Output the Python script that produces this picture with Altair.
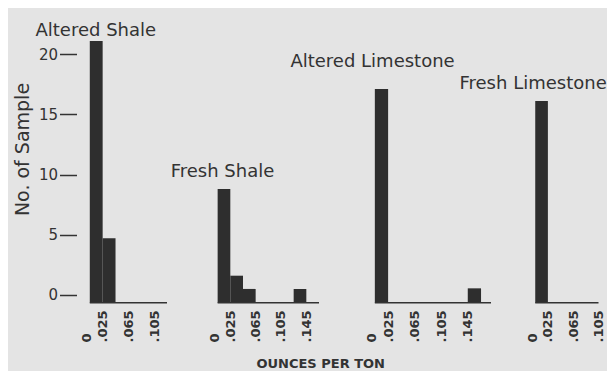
import altair as alt
import pandas as pd

# ---- data (counts of samples per gold-assay bin, oz/ton) ----
panel_names = ["Altered Shale", "Fresh Shale", "Altered Limestone", "Fresh Limestone"]

altered_shale_bins = [0.005, 0.025]
altered_shale_counts = [21.1, 4.7]

fresh_shale_bins = [0.005, 0.025, 0.045, 0.125]
fresh_shale_counts = [8.8, 1.6, 0.5, 0.5]

altered_lime_bins = [0.005, 0.145]
altered_lime_counts = [17.1, 0.55]

fresh_lime_bins = [0.005]
fresh_lime_counts = [16.1]

bin_width = 0.02

altered_shale_ticks = [0, 0.025, 0.065, 0.105]
fresh_shale_ticks = [0, 0.025, 0.065, 0.105, 0.145]
altered_lime_ticks = [0, 0.025, 0.065, 0.105, 0.145]
fresh_lime_ticks = [0, 0.025, 0.065, 0.105]

# extent of each panel's drawn base line (oz/ton)
axis_start = [0.005, 0.005, 0.005, 0.005]
axis_end = [0.125, 0.165, 0.18, 0.105]

y_ticks = [0, 5, 10, 15, 20]
y_title = "No. of Sample"
x_title = "OUNCES  PER  TON"

# ---- styling ----
FONT = "DejaVu Sans"
INK = "#333333"
BAR = "#2e2e2e"
BG = "#e4e4e4"
BASE_Y = -0.64
H = 289
Y_DOM = [-1, 23]


def panel(idx, bins, counts, ticks, lo, width, title_dx, title_dy, show_y, extra=None):
    df = pd.DataFrame({
        "start": bins,
        "end": [b + bin_width for b in bins],
        "count": counts,
    })
    xs = alt.Scale(domain=[lo, axis_end[idx]], nice=False, zero=False)
    ys = alt.Scale(domain=Y_DOM, nice=False, zero=False)
    xaxis = alt.Axis(
        values=ticks,
        labelExpr="datum.value == 0 ? '0' : substring(format(datum.value, '.3f'), 1)",
        labelAngle=270, labelAlign="left", labelBaseline="middle",
        labelPadding=35, ticks=False, tickSize=0, domain=False, grid=False,
        labelOverlap=False, labelFlush=False, labelBound=False,
        labelFont=FONT, labelFontSize=13, labelFontWeight="bold", labelColor=INK,
        title=None,
    )
    if show_y:
        yaxis = alt.Axis(
            values=y_ticks, domain=False, grid=False,
            tickSize=17, tickWidth=1.5, tickColor=INK,
            labelFont=FONT, labelFontSize=15, labelColor=INK, labelPadding=2,
            offset=7.5,
            title=y_title, titleFont=FONT, titleFontSize=19,
            titleFontWeight="normal", titleColor=INK, titlePadding=6,
            titleY=131,
        )
    else:
        yaxis = None
    bars = alt.Chart(df).mark_bar(color=BAR).encode(
        x=alt.X("start:Q", scale=xs, axis=xaxis),
        x2="end:Q",
        y=alt.Y("count:Q", scale=ys, axis=yaxis),
        y2=alt.datum(BASE_Y),
    )
    base = alt.Chart(pd.DataFrame({"a": [axis_start[idx]], "b": [axis_end[idx]]})).mark_rule(
        color=INK, strokeWidth=1.5
    ).encode(
        x=alt.X("a:Q", scale=xs, axis=xaxis),
        x2="b:Q",
        y=alt.datum(BASE_Y),
    )
    ttl = alt.Chart(pd.DataFrame({"name": [panel_names[idx]]})).mark_text(
        align="left", baseline="alphabetic", font=FONT, fontSize=18, color=INK
    ).encode(text="name:N", x=alt.value(title_dx), y=alt.value(title_dy))
    layers = [bars, base, ttl]
    if extra is not None:
        layers.append(extra)
    return alt.layer(*layers).properties(width=width, height=H)


xlab = alt.Chart(pd.DataFrame({"t": [x_title]})).mark_text(
    align="center", baseline="alphabetic", font=FONT, fontSize=13,
    fontWeight="bold", color=INK
).encode(text="t:N", x=alt.value(118.7), y=alt.value(350))

p1 = panel(0, altered_shale_bins, altered_shale_counts, altered_shale_ticks, -0.004, 83, -48.5, 17.5, True)
p2 = panel(1, fresh_shale_bins, fresh_shale_counts, fresh_shale_ticks, -0.0197, 117, -31.3, 159, False, xlab)
p3 = panel(2, altered_lime_bins, altered_lime_counts, altered_lime_ticks, -0.0264, 137, -63.6, 49, False)
p4 = panel(3, fresh_lime_bins, fresh_lime_counts, fresh_lime_ticks, -0.0096, 72.5, -66.5, 71, False)

chart = alt.hconcat(p1, p2, p3, p4, spacing=35, bounds="flush").properties(
    background=BG,
    padding={"left": 5, "top": 10, "right": 0, "bottom": 0},
).configure_view(stroke=None).configure_axis(labelOverlap=False)

chart.save("out.html", embed_options={"renderer": "svg", "actions": False})
